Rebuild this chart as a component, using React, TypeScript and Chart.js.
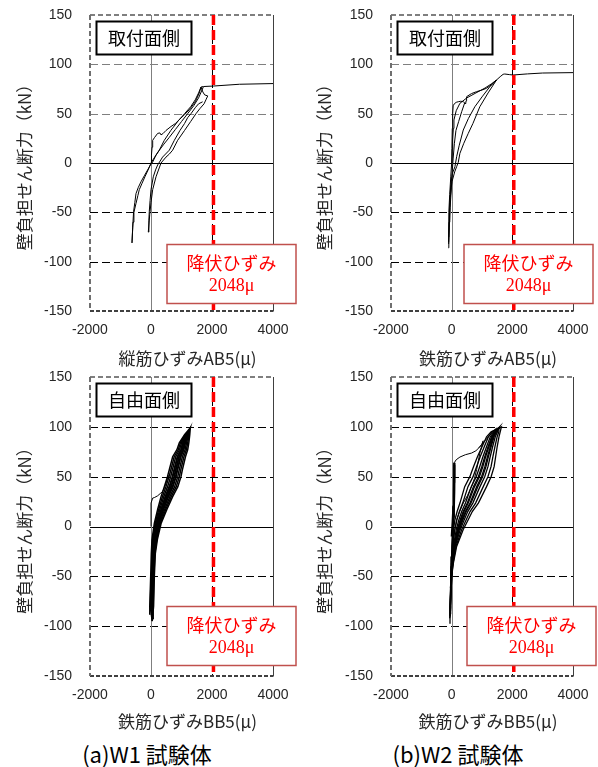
import React, { useEffect, useRef } from 'react';
import { Chart, registerables } from 'chart.js';

Chart.register(...registerables);

type Pt = [number, number];

// ---------- axes ----------
const X_MIN = -2000;
const X_MAX = 4000;
const X_STEP = 2000;
const Y_MIN = -150;
const Y_MAX = 150;
const Y_STEP = 50;
const Y_GRID = [-100, -50, 50, 100];
const X_GRID = [2000];
const YIELD_STRAIN = 2048;

// ---------- texts ----------
const Y_TITLE = '壁負担せん断力（kN）';
const X_TITLES = ['縦筋ひずみAB5(μ)', '鉄筋ひずみAB5(μ)', '鉄筋ひずみBB5(μ)', '鉄筋ひずみBB5(μ)'];
const SIDE_LABELS = ['取付面側', '取付面側', '自由面側', '自由面側'];
const YIELD_LABEL = '降伏ひずみ';
const YIELD_VALUE_LABEL = '2048μ';
const CAPTIONS = ['(a)W1 試験体', '(b)W2 試験体'];

// ---------- data: strain (μ), shear force (kN) ----------
// W1 取付面側 AB5
const W1_AB5_VIRGIN: Pt[] = [[0, 0], [15, 8], [35, 16], [55, 23], [120, 26], [218, 30], [290, 30.5], [328, 28.5], [400, 30], [492, 33], [656, 37], [800, 40], [928, 44], [1100, 49], [1256, 54], [1450, 62], [1584, 71], [1640, 77]];
const W1_AB5_PLATEAU: Pt[] = [[1640, 77], [1715, 77.5], [2048, 78], [2900, 79.8], [4000, 80.5]];
const W1_AB5_LOOP_A: Pt[] = [[-623, -81], [-600, -65], [-570, -49], [-530, -40], [-492, -31], [-420, -25], [-328, -19], [-220, -13], [-110, -7], [0, -1], [55, 1], [164, 8], [272, 13], [436, 23], [650, 33], [900, 43], [1100, 50], [1300, 57], [1450, 64], [1560, 71], [1640, 77]];
const W1_AB5_LOOP_B: Pt[] = [[-623, -81], [-590, -60], [-560, -50], [-492, -41], [-430, -33], [-384, -27], [-300, -21], [-200, -14], [-80, -6], [0, 0], [100, 5], [250, 12], [420, 19], [600, 26], [800, 34], [1000, 42], [1202, 50], [1400, 58], [1560, 66], [1715, 77]];
const W1_AB5_LOOP_C: Pt[] = [[-89, -70], [-70, -58], [-56, -49], [-30, -38], [0, -27], [75, -14], [150, -7], [218, -2], [300, 2], [380, 6], [600, 13], [765, 23], [950, 33], [1100, 40], [1202, 46], [1311, 50], [1450, 56], [1560, 60], [1693, 62]];
const W1_AB5_LOOP_D: Pt[] = [[1640, 77], [1700, 72], [1760, 69], [1860, 68], [1800, 64], [1740, 60], [1600, 55], [1475, 50], [1300, 42], [1100, 33], [874, 23], [710, 13], [600, 9], [492, 6], [328, 0], [164, -14], [55, -27], [0, -40], [-40, -52], [-89, -70]];

// W2 取付面側 AB5
const W2_AB5_VIRGIN: Pt[] = [[0, 0], [8, 15], [20, 35], [33, 50], [50, 58], [86, 60], [150, 61.5], [218, 62.1], [300, 62.6], [382, 62.1], [430, 61], [460, 59.8]];
const W2_AB5_RISE: Pt[] = [[460, 59.8], [475, 63], [492, 67.2], [650, 70.3], [820, 72.3], [1000, 74], [1148, 75.7], [1300, 79], [1478, 84.1], [1600, 87.5], [1696, 89.9], [1751, 90.2]];
const W2_AB5_PLATEAU: Pt[] = [[1751, 90.2], [1900, 89.6], [2025, 89.2], [2500, 90.3], [3000, 91.2], [4000, 91.6]];
const W2_AB5_LOOP_A: Pt[] = [[-110, -86], [-100, -70], [-88, -50], [-65, -32], [-30, -14], [0, 0], [20, 14], [33, 23.3], [55, 35], [75, 43.6], [150, 53], [272, 60.5], [500, 66], [800, 71], [1100, 76], [1300, 80], [1478, 84.1]];
const W2_AB5_LOOP_B: Pt[] = [[-100, -80], [-85, -60], [-62, -40], [-30, -22], [20, -11], [108, -3.7], [164, 6.4], [250, 18], [382, 33.4], [550, 45], [764, 57], [1000, 67], [1250, 77], [1478, 84.1]];
const W2_AB5_LOOP_C: Pt[] = [[-95, -75], [-75, -55], [-45, -35], [10, -19], [100, -9], [164, -3.7], [218, 0.7], [272, 9.8], [400, 20], [547, 30], [700, 40], [928, 57], [1200, 71], [1478, 84.1]];
const W2_AB5_HOOK: Pt[] = [[430, 61], [330, 52], [230, 42], [141, 33], [90, 20], [50, 5], [20, -8], [-10, -25], [-50, -45], [-80, -65], [-100, -82]];

// W1 自由面側 BB5
const W1_BB5_VIRGIN: Pt[] = [[0, 0], [0, 10], [2, 23.5], [55, 28.5], [109, 29], [218, 30.8], [300, 33], [382, 35.2], [440, 39], [492, 43.6], [546, 48.6], [600, 52]];
const W1_BB5_LOOP_1: Pt[] = [[-55, -88], [-40, -80], [-10, -50], [10, -27], [33, -13], [109, 3], [218, 17], [330, 30], [437, 40], [540, 50], [600, 57], [710, 70], [850, 77], [928, 84], [1100, 92], [1289, 99], [1270, 92], [1240, 84], [1202, 77], [1130, 70], [1030, 57], [983, 50], [880, 40], [710, 30], [520, 17], [330, 3], [210, -13], [142, -27], [109, -50], [85, -80], [40, -95]];
const W1_BB5_LOOP_2: Pt[] = [[40, -95], [-25, -80], [4, -50], [26, -27], [54, -13], [136, 3], [254, 17], [376, 30], [490, 40], [593, 50], [652, 57], [760, 70], [892, 77], [965, 84], [1120, 92], [1250, 96], [1250, 92], [1203, 84], [1160, 77], [1080, 70], [978, 57], [930, 50], [827, 40], [664, 30], [484, 17], [303, 3], [189, -13], [126, -27], [95, -50], [70, -80], [50, -92]];
const W1_BB5_LOOP_3: Pt[] = [[50, -92], [-10, -80], [19, -50], [42, -27], [75, -13], [162, 3], [290, 17], [421, 30], [543, 40], [646, 50], [703, 57], [811, 70], [934, 77], [1003, 84], [1141, 92], [1235, 95], [1229, 92], [1165, 84], [1118, 77], [1029, 70], [927, 57], [877, 50], [774, 40], [619, 30], [448, 17], [277, 3], [168, -13], [110, -27], [80, -50], [55, -80], [60, -90]];
const W1_BB5_LOOP_4: Pt[] = [[60, -90], [5, -80], [33, -50], [58, -27], [97, -13], [189, 3], [327, 17], [467, 30], [596, 40], [699, 50], [755, 57], [861, 70], [977, 77], [1040, 84], [1161, 92], [1270, 98], [1209, 92], [1128, 84], [1075, 77], [979, 70], [875, 57], [824, 50], [721, 40], [573, 30], [411, 17], [250, 3], [146, -13], [94, -27], [66, -50], [40, -80], [70, -93]];
const W1_BB5_LOOP_5: Pt[] = [[70, -93], [20, -80], [47, -50], [73, -27], [118, -13], [215, 3], [363, 17], [512, 30], [650, 40], [753, 50], [806, 57], [912, 70], [1019, 77], [1078, 84], [1182, 92], [1250, 96], [1188, 92], [1090, 84], [1033, 77], [928, 70], [824, 57], [770, 50], [667, 40], [528, 30], [375, 17], [224, 3], [125, -13], [79, -27], [52, -50], [25, -80], [30, -90]];
const W1_BB5_LOOP_6: Pt[] = [[30, -90], [35, -80], [61, -50], [89, -27], [139, -13], [242, 3], [399, 17], [558, 30], [703, 40], [806, 50], [858, 57], [962, 70], [1061, 77], [1115, 84], [1202, 92], [1230, 95], [1168, 92], [1053, 84], [991, 77], [878, 70], [772, 57], [717, 50], [614, 40], [482, 30], [339, 17], [197, 3], [104, -13], [63, -27], [38, -50], [10, -80], [45, -93]];

// W2 自由面側 BB5
const W2_BB5_STEM_1: Pt[] = [[0, -10], [30, 5], [55, 20], [72, 35], [80, 50], [86, 64]];
const W2_BB5_STEM_2: Pt[] = [[86, 64], [90, 50], [86, 35], [76, 20], [55, 5], [30, -10], [10, -30], [-10, -50], [-25, -62]];
const W2_BB5_STEM_3: Pt[] = [[-25, -62], [-5, -42], [15, -25], [40, -8], [60, 10], [75, 30], [82, 45], [88, 62]];
const W2_BB5_VIRGIN: Pt[] = [[86, 64], [150, 67], [273, 69.7], [450, 72], [657, 73.7], [800, 76], [900, 79], [985, 82], [1039, 86]];
const W2_BB5_SPIKE: Pt[] = [[1039, 86], [985, 80], [930, 73.7], [880, 66], [822, 57], [750, 48], [657, 40.2], [520, 31], [382, 23.5], [250, 14], [164, 6.7], [90, -5], [40, -20], [10, -40], [-20, -60]];
const W2_BB5_RISE: Pt[] = [[900, 79], [985, 82], [1100, 86], [1259, 92], [1400, 96.5], [1478, 98.8]];
const W2_BB5_LOOP_A: Pt[] = [[-77, -97], [-55, -80], [-25, -50], [-5, -37], [10, -20], [55, -3], [109, 7], [180, 15], [273, 23.5], [430, 40], [600, 50], [720, 60], [850, 70], [1000, 80], [1150, 90], [1300, 95], [1640, 100], [1600, 95], [1560, 90], [1500, 80], [1450, 70], [1400, 60], [1300, 50], [1150, 40], [880, 23.5], [680, 15], [550, 7], [382, -3], [164, -20], [55, -37], [0, -50], [-33, -80], [-60, -92]];
const W2_BB5_LOOP_B: Pt[] = [[-60, -92], [-52, -80], [-21, -50], [4, -37], [33, -20], [104, -3], [175, 7], [255, 15], [364, 23.5], [538, 40], [705, 50], [822, 60], [940, 70], [1075, 80], [1212, 90], [1345, 95], [1550, 99], [1555, 95], [1499, 90], [1425, 80], [1360, 70], [1298, 60], [1195, 50], [1042, 40], [789, 23.5], [605, 15], [484, 7], [333, -3], [141, -20], [46, -37], [-4, -50], [-36, -80], [-40, -85]];
const W2_BB5_LOOP_C: Pt[] = [[-40, -85], [-48, -80], [-18, -50], [13, -37], [56, -20], [153, -3], [241, 7], [330, 15], [455, 23.5], [646, 40], [810, 50], [924, 60], [1030, 70], [1150, 80], [1273, 90], [1390, 95], [1500, 98], [1510, 95], [1437, 90], [1350, 80], [1270, 70], [1196, 60], [1090, 50], [934, 40], [698, 23.5], [530, 15], [418, 7], [284, -3], [118, -20], [37, -37], [-8, -50], [-40, -80], [-45, -90]];
const W2_BB5_LOOP_D: Pt[] = [[-45, -90], [-45, -80], [-14, -50], [22, -37], [79, -20], [202, -3], [307, 7], [405, 15], [546, 23.5], [754, 40], [915, 50], [1026, 60], [1120, 70], [1225, 80], [1335, 90], [1435, 95], [1600, 99.5], [1465, 95], [1375, 90], [1275, 80], [1180, 70], [1094, 60], [985, 50], [826, 40], [607, 23.5], [455, 15], [352, 7], [235, -3], [95, -20], [28, -37], [-11, -50], [-43, -80], [-35, -88]];
const W2_BB5_LOOP_E: Pt[] = [[-35, -88], [-42, -80], [-10, -50], [31, -37], [102, -20], [251, -3], [374, 7], [480, 15], [637, 23.5], [862, 40], [1020, 50], [1128, 60], [1210, 70], [1300, 80], [1396, 90], [1480, 95], [1580, 100], [1420, 95], [1314, 90], [1200, 80], [1090, 70], [992, 60], [880, 50], [718, 40], [516, 23.5], [380, 15], [285, 7], [186, -3], [72, -20], [19, -37], [-15, -50], [-46, -80], [-50, -90]];

// ---------- panel layout ----------
interface PanelCfg {
  left: number; top: number; width: number; height: number;
  padTop: number; padRight: number; yAxisWidth: number; xAxisHeight: number;
  xTitlePadBottom: number;
  idx: number;
  branches: { pts: Pt[]; w: number }[];
  upperGridColor: string;
  boxLeft: number;
}

const PANELS: PanelCfg[] = [
  {
    left: 0, top: 0, width: 300, height: 370, padTop: 15, padRight: 27, yAxisWidth: 90, xAxisHeight: 59,
    xTitlePadBottom: 11, idx: 0, upperGridColor: '#7f7f7f', boxLeft: 77,
    branches: [W1_AB5_VIRGIN, W1_AB5_PLATEAU, W1_AB5_LOOP_A, W1_AB5_LOOP_B, W1_AB5_LOOP_C, W1_AB5_LOOP_D].map((pts) => ({ pts, w: 1 })),
  },
  {
    left: 300, top: 0, width: 298, height: 370, padTop: 15, padRight: 25, yAxisWidth: 91, xAxisHeight: 59,
    xTitlePadBottom: 11, idx: 1, upperGridColor: '#7f7f7f', boxLeft: 73,
    branches: [W2_AB5_VIRGIN, W2_AB5_RISE, W2_AB5_PLATEAU, W2_AB5_LOOP_A, W2_AB5_LOOP_B, W2_AB5_LOOP_C, W2_AB5_HOOK].map((pts) => ({ pts, w: 1 })),
  },
  {
    left: 0, top: 370, width: 300, height: 365, padTop: 7, padRight: 27, yAxisWidth: 90, xAxisHeight: 59,
    xTitlePadBottom: 13, idx: 2, upperGridColor: '#000000', boxLeft: 77,
    branches: [
      { pts: W1_BB5_VIRGIN, w: 1 },
      ...[W1_BB5_LOOP_1, W1_BB5_LOOP_2, W1_BB5_LOOP_3, W1_BB5_LOOP_4, W1_BB5_LOOP_5, W1_BB5_LOOP_6].map((pts) => ({ pts, w: 1.5 })),
    ],
  },
  {
    left: 300, top: 370, width: 298, height: 365, padTop: 7, padRight: 25, yAxisWidth: 91, xAxisHeight: 59,
    xTitlePadBottom: 13, idx: 3, upperGridColor: '#000000', boxLeft: 76,
    branches: [
      ...[W2_BB5_STEM_1, W2_BB5_STEM_2, W2_BB5_STEM_3].map((pts) => ({ pts, w: 2 })),
      ...[W2_BB5_VIRGIN, W2_BB5_SPIKE, W2_BB5_RISE].map((pts) => ({ pts, w: 1 })),
      ...[W2_BB5_LOOP_A, W2_BB5_LOOP_B, W2_BB5_LOOP_C, W2_BB5_LOOP_D, W2_BB5_LOOP_E].map((pts) => ({ pts, w: 1.3 })),
    ],
  },
];

const CJK = '"Noto Sans CJK JP", "Noto Sans", sans-serif';
const TICK_FONT = 'Liberation Sans';
const TEXT_COLOR = '#262626';

function line(ctx: CanvasRenderingContext2D, x1: number, y1: number, x2: number, y2: number, color: string, width: number, dash: number[]) {
  ctx.beginPath();
  ctx.strokeStyle = color;
  ctx.lineWidth = width;
  ctx.setLineDash(dash);
  ctx.moveTo(x1, y1);
  ctx.lineTo(x2, y2);
  ctx.stroke();
}

const framePlugin = {
  id: 'frame',
  beforeDatasetsDraw(chart: any, _args: any, opts: any) {
    const { ctx, chartArea, scales } = chart;
    const { left, right, top, bottom } = chartArea;
    const xs = scales.x;
    const ys = scales.y;
    ctx.save();
    for (const v of Y_GRID) {
      const py = Math.round(ys.getPixelForValue(v)) + 0.5;
      line(ctx, left, py, right, py, v > 0 ? opts.upperGridColor : '#000000', 1, [8, 4]);
    }
    for (const v of X_GRID) {
      const px = Math.round(xs.getPixelForValue(v)) + 0.5;
      line(ctx, px, top, px, bottom, '#000000', 1, [7, 4]);
    }
    const y0 = Math.round(ys.getPixelForValue(0)) + 0.5;
    line(ctx, left, y0, right, y0, '#000000', 1, []);
    const x0 = Math.round(xs.getPixelForValue(0)) + 0.5;
    line(ctx, x0, top, x0, bottom, '#7f7f7f', 1, []);
    const xl = xs.getPixelForValue(X_MIN);
    const xr = Math.round(xs.getPixelForValue(X_MAX)) + 0.5;
    const yt = ys.getPixelForValue(Y_MAX);
    const yb = ys.getPixelForValue(Y_MIN);
    line(ctx, xr, yt, xr, yb, '#404040', 1, []);
    line(ctx, xl, yt, xr, yt, '#7f7f7f', 2, [5, 3]);
    line(ctx, xl, yb, xr, yb, '#404040', 2, [4, 2]);
    line(ctx, xl, yt, xl, yb, '#6f6f6f', 2, [5, 3]);
    ctx.restore();
  },
  afterDatasetsDraw(chart: any, _args: any, opts: any) {
    const { ctx, chartArea, scales } = chart;
    const { left, right, top, bottom } = chartArea;
    const xs = scales.x;
    ctx.save();
    const px = xs.getPixelForValue(YIELD_STRAIN);
    line(ctx, px, top, px, bottom, '#ff0000', 3.5, [10, 5]);
    ctx.setLineDash([]);
    const bx = left + 6.5;
    const by = top + 6.5;
    ctx.fillStyle = '#ffffff';
    ctx.fillRect(bx, by, 95, 33);
    ctx.strokeStyle = '#000000';
    ctx.lineWidth = 2;
    ctx.strokeRect(bx, by, 95, 33);
    ctx.fillStyle = '#000000';
    ctx.font = `18px ${CJK}`;
    ctx.textAlign = 'center';
    ctx.textBaseline = 'middle';
    ctx.fillText(opts.label, bx + 47.5, by + 17);
    const rx = left + opts.boxLeft;
    const ry = top + 229.5;
    ctx.fillStyle = '#ffffff';
    ctx.fillRect(rx, ry, 129, 59);
    ctx.strokeStyle = '#c0504d';
    ctx.lineWidth = 1.5;
    ctx.strokeRect(rx, ry, 129, 59);
    ctx.fillStyle = '#ff0000';
    ctx.font = `18px ${CJK}`;
    ctx.fillText(YIELD_LABEL, rx + 64.5, ry + 19);
    ctx.font = '18px "Liberation Serif", serif';
    ctx.fillText(YIELD_VALUE_LABEL, rx + 64.5, ry + 42);
    ctx.fillStyle = TEXT_COLOR;
    ctx.font = `17px ${CJK}`;
    ctx.fillText(opts.xTitle, (left + right) / 2 + 6, chart.height - opts.xTitlePadBottom);
    ctx.restore();
  },
};

function Panel({ cfg }: { cfg: PanelCfg }) {
  const ref = useRef<HTMLCanvasElement>(null);
  useEffect(() => {
    const canvas = ref.current;
    if (!canvas) return;
    const chart = new Chart(canvas, {
      type: 'scatter',
      data: {
        datasets: cfg.branches.map((b) => ({
          data: b.pts.map(([x, y]) => ({ x, y })),
          showLine: true,
          borderColor: '#000000',
          backgroundColor: '#000000',
          borderWidth: b.w,
          pointRadius: 0,
          pointHoverRadius: 0,
          tension: 0,
          fill: false,
        })),
      },
      options: {
        responsive: false,
        animation: false,
        events: [],
        layout: { autoPadding: false, padding: { top: cfg.padTop, right: cfg.padRight, left: 0, bottom: 0 } },
        plugins: {
          legend: { display: false },
          tooltip: { enabled: false },
          frame: {
            label: SIDE_LABELS[cfg.idx],
            xTitle: X_TITLES[cfg.idx],
            upperGridColor: cfg.upperGridColor,
            boxLeft: cfg.boxLeft,
            xTitlePadBottom: cfg.xTitlePadBottom,
          },
        } as any,
        scales: {
          x: {
            type: 'linear',
            min: X_MIN,
            max: X_MAX,
            ticks: {
              stepSize: X_STEP,
              autoSkip: false,
              maxRotation: 0,
              padding: 12,
              color: TEXT_COLOR,
              font: { family: TICK_FONT, size: 14, lineHeight: 1 },
              callback: (v: any) => String(v),
            },
            grid: { display: false, drawTicks: false },
            border: { display: false },
            title: { display: false },
            afterFit: (scale: any) => {
              scale.height = cfg.xAxisHeight;
              scale.paddingLeft = 0;
              scale.paddingRight = 0;
            },
          },
          y: {
            type: 'linear',
            min: Y_MIN,
            max: Y_MAX,
            ticks: {
              stepSize: Y_STEP,
              autoSkip: false,
              padding: 18,
              color: TEXT_COLOR,
              font: { family: TICK_FONT, size: 14, lineHeight: 1 },
              callback: (v: any) => String(v),
            },
            grid: { display: false, drawTicks: false },
            border: { display: false },
            title: {
              display: true,
              text: Y_TITLE,
              color: TEXT_COLOR,
              font: { family: '"Noto Sans CJK JP"', size: 17, lineHeight: 1.2 },
              padding: { top: 14, bottom: 0 },
            },
            afterFit: (scale: any) => {
              scale.width = cfg.yAxisWidth;
              scale.paddingTop = 0;
              scale.paddingBottom = 0;
            },
          },
        },
      },
      plugins: [framePlugin],
    });
    return () => chart.destroy();
  }, [cfg]);
  return (
    <canvas
      ref={ref}
      width={cfg.width}
      height={cfg.height}
      style={{ position: 'absolute', left: cfg.left, top: cfg.top, width: cfg.width, height: cfg.height }}
    />
  );
}

export default function App() {
  const capStyle: React.CSSProperties = {
    position: 'absolute',
    top: 738,
    width: 220,
    textAlign: 'center',
    fontFamily: CJK,
    fontSize: 22,
    lineHeight: '30px',
    color: '#000',
    whiteSpace: 'nowrap',
  };
  return (
    <div style={{ position: 'absolute', left: 0, top: 0, width: 598, height: 767, background: '#ffffff', overflow: 'hidden' }}>
      {PANELS.map((p) => (
        <Panel key={p.idx} cfg={p} />
      ))}
      <div style={{ ...capStyle, left: 147 - 110 }}>{CAPTIONS[0]}</div>
      <div style={{ ...capStyle, left: 458 - 110 }}>{CAPTIONS[1]}</div>
    </div>
  );
}
